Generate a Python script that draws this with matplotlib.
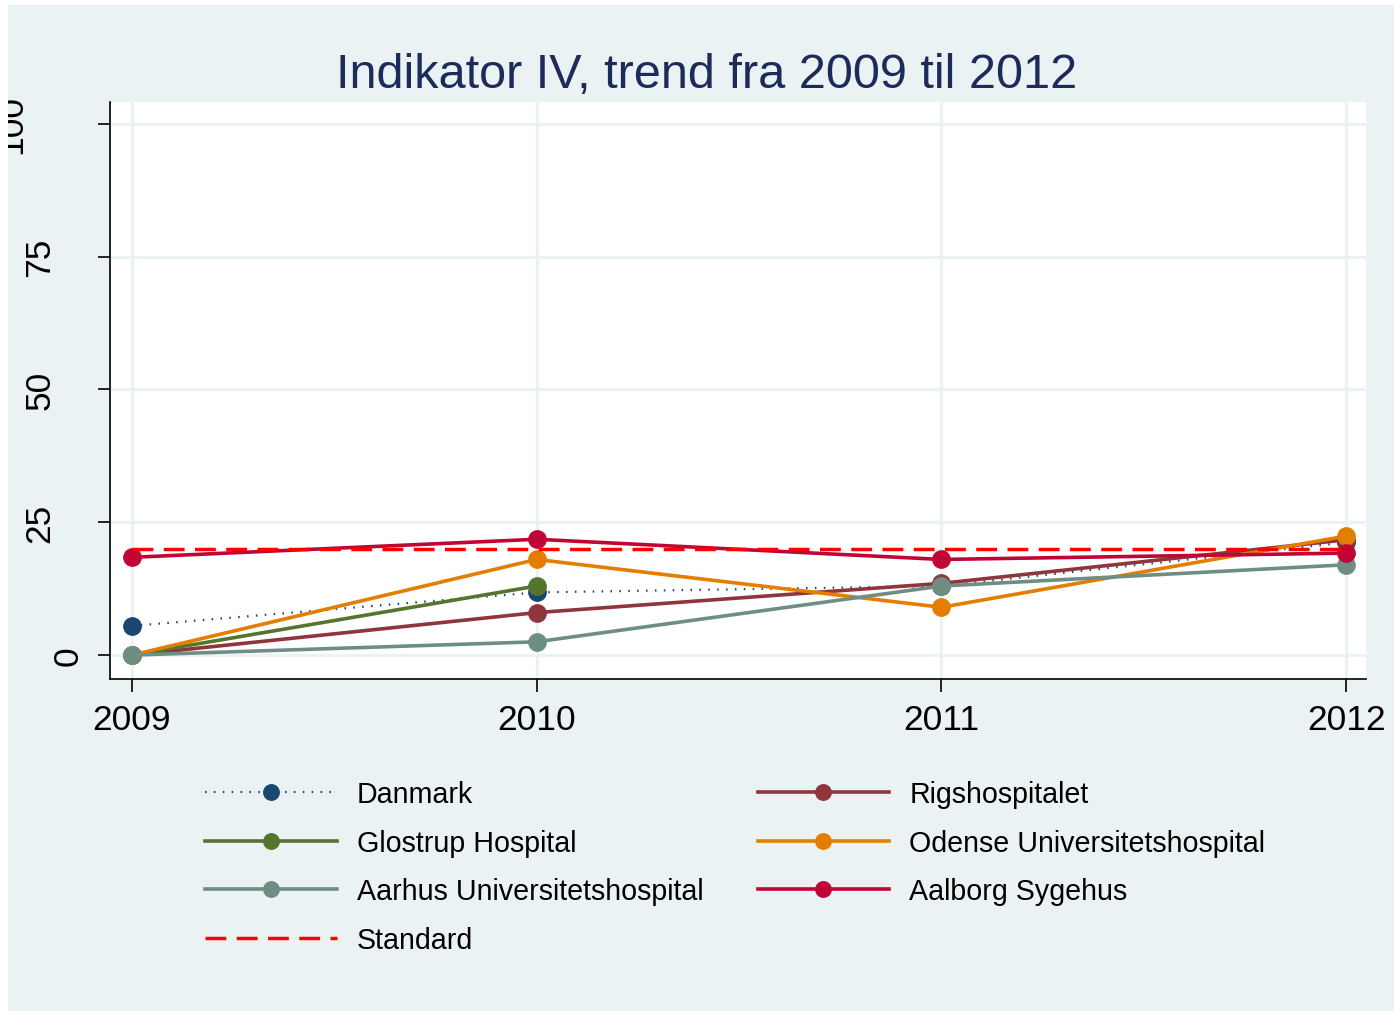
"""
Indikator IV trend chart, 2009-2012 (Stata s2color look).
"""

import matplotlib
matplotlib.use("Agg")
import matplotlib.pyplot as plt
from matplotlib.patches import Rectangle
from matplotlib.transforms import Bbox, TransformedBbox, blended_transform_factory, offset_copy

plt.rcParams["font.family"] = ["Liberation Sans", "DejaVu Sans"]

YEARS = [2009, 2010, 2011, 2012]

danmark = [5.5, 11.8, 13.0, 21.2]
glostrup = [0.0, 13.0]
aarhus = [0.0, 2.5, 13.0, 17.0]
rigshospitalet = [0.0, 8.0, 13.5, 21.7]
odense = [0.0, 18.0, 9.0, 22.4]
aalborg = [18.4, 21.8, 18.0, 19.2]
standard = [20, 20, 20, 20]

YTICKS = [0, 25, 50, 75, 100]

BG = "#eaf2f3"
TITLE = "Indikator IV, trend fra 2009 til 2012"

W, H = 1394, 1012
fig = plt.figure(figsize=(W / 100, H / 100), dpi=100, facecolor="white")
fig.patches.append(Rectangle((8 / W, 0), 1, 1 - 6 / H, transform=fig.transFigure,
                             facecolor=BG, edgecolor="none", zorder=-10))

ax = fig.add_axes([110 / W, 1 - 680 / H, (1366 - 110) / W, (680 - 103) / H])
ax.set_facecolor("white")

line_kw = dict(linewidth=2.6, marker="o", markersize=13.5, markeredgewidth=0)

h_dan, = ax.plot(YEARS, danmark, color="#1a476f", linestyle=(0, (0.7, 3.3)),
                 label="Danmark", zorder=3, **{**line_kw, "linewidth": 1.6})
h_rig, = ax.plot(YEARS, rigshospitalet, color="#90353b", label="Rigshospitalet", zorder=4, **line_kw)
h_glo, = ax.plot(YEARS[:len(glostrup)], glostrup, color="#55752f", label="Glostrup Hospital", zorder=5, **line_kw)
h_ode, = ax.plot(YEARS, odense, color="#e37e00", label="Odense Universitetshospital", zorder=6, **line_kw)
h_aar, = ax.plot(YEARS, aarhus, color="#6e8e84", label="Aarhus Universitetshospital", zorder=7, **line_kw)
h_aal, = ax.plot(YEARS, aalborg, color="#c10534", label="Aalborg Sygehus", zorder=8, **line_kw)
h_std, = ax.plot(YEARS, standard, color="#ff0000", linewidth=2.5, linestyle=(0, (6.0, 3.0)),
                 label="Standard", zorder=9)

ax.set_xlim(2008.946, 2012.049)
ax.set_ylim(-4.5, 104.1)
ax.set_xticks(YEARS)
ax.set_xticklabels([str(y) for y in YEARS], fontsize=25.5)
ax.set_yticks(YTICKS)
ax.tick_params(axis="both", direction="out", length=9, width=1.2, color="black")
ax.tick_params(axis="x", pad=8)
ax.tick_params(axis="y", labelleft=False)
ax.grid(True, color=BG, linewidth=2.2, zorder=0)
ax.set_axisbelow(True)

for side in ["top", "right"]:
    ax.spines[side].set_visible(False)
for side in ["left", "bottom"]:
    ax.spines[side].set_linewidth(1.2)
    ax.spines[side].set_color("black")

# rotated y labels, Stata shifts them left by label length
clip = TransformedBbox(Bbox.from_extents(8 / 100, 0, 3, (H - 97) / 100), fig.dpi_scale_trans)
ytrans = blended_transform_factory(ax.transAxes, ax.transData)
for v in YTICKS:
    s = str(v)
    dx = -(14 + 28 * len(s)) * 0.72
    t = ax.text(0, v, s, rotation=90, ha="center", va="center", fontsize=25.5,
                transform=offset_copy(ytrans, fig=fig, x=dx, y=0, units="points"),
                clip_on=False)
    t.set_clip_box(clip)
    t.set_clip_on(True)

fig.text(707 / W, 1 - 88 / H, TITLE, ha="center", va="baseline", fontsize=35, color="#1c2b5a")

handles = [h_dan, h_glo, h_aar, h_std, h_rig, h_ode, h_aal]
leg = ax.legend(handles=handles, labels=[h.get_label() for h in handles], ncol=2,
                loc="upper left", bbox_to_anchor=(205 / W, 1 - 781 / H),
                bbox_transform=fig.transFigure, frameon=False, fontsize=20.6,
                handlelength=4.6, handletextpad=0.7, columnspacing=1.9,
                labelspacing=0.72, borderpad=0, borderaxespad=0, markerscale=0.9)

fig.savefig("out.png", dpi=100, facecolor="white")
